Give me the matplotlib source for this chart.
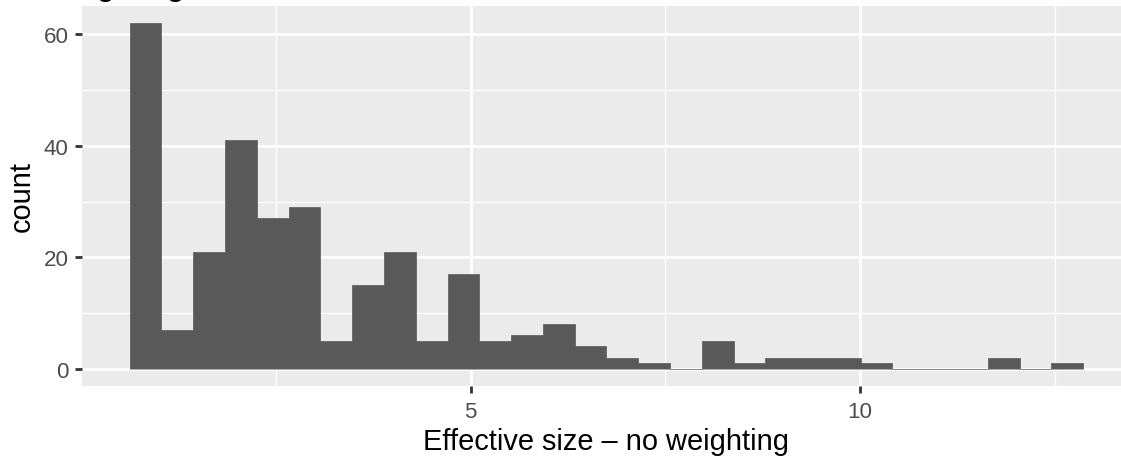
import matplotlib
matplotlib.use("Agg")
import matplotlib.pyplot as plt
import numpy as np

# Histogram counts (30 equal-width bins)
counts = [62, 7, 21, 41, 27, 29, 5, 15, 21, 5,
          17, 5, 6, 8, 4, 2, 1, 0, 5, 1,
          2, 2, 2, 1, 0, 0, 0, 2, 0, 1]
bin_start = 0.622
bin_width = 0.408

x_ticks = [5, 10]
x_minor = [2.5, 7.5, 12.5]
y_ticks = [0, 20, 40, 60]
y_minor = [10, 30, 50]

title = "No weighting"
x_label = "Effective size \u2013 no weighting"
y_label = "count"

W, H, DPI = 1121, 460, 100
plt.rcParams["font.family"] = ["Liberation Sans", "DejaVu Sans"]

fig = plt.figure(figsize=(W / DPI, H / DPI), dpi=DPI)

edges = bin_start + bin_width * np.arange(len(counts) + 1)
span = edges[-1] - edges[0]
xlim = (edges[0] - 0.05 * span, edges[-1] + 0.05 * span)
ylim = (-0.05 * max(counts), max(counts) * 1.05)

# panel geometry in pixels
px_left, px_top, px_bottom = 82, 7, 387
px_per_unit = 77.9
px_right = px_left + (xlim[1] - xlim[0]) * px_per_unit
ax = fig.add_axes([px_left / W, (H - px_bottom) / H,
                   (px_right - px_left) / W, (px_bottom - px_top) / H])
ax.set_facecolor("#EBEBEB")
for s in ax.spines.values():
    s.set_visible(False)

ax.set_xlim(*xlim)
ax.set_ylim(*ylim)
ax.set_xticks(x_ticks)
ax.set_xticks(x_minor, minor=True)
ax.set_yticks(y_ticks)
ax.set_yticks(y_minor, minor=True)
ax.grid(which="major", color="white", linewidth=2.0)
ax.grid(which="minor", color="white", linewidth=1.0)
ax.set_axisbelow(True)

ax.tick_params(which="major", length=5, width=2.0, color="#333333",
               labelsize=16.1, labelcolor="#4D4D4D")
ax.tick_params(axis="x", which="major", pad=5.5)
ax.tick_params(axis="y", which="major", pad=4.5)
ax.tick_params(which="minor", length=0)

# one filled step outline so neighbouring bins join without seams
ax.stairs(counts, edges, baseline=0, fill=True,
          facecolor="#595959", edgecolor="#595959", linewidth=0.5)

fig.text((px_left + px_right) / 2 / W, (H - 450) / H, x_label,
         ha="center", va="baseline", fontsize=20.9, color="black")
fig.text(22 / W, (H - 197) / H, y_label, rotation=90,
         ha="center", va="center", fontsize=20.9, color="black")
fig.text(5 / W, (H + 4) / H, title, ha="left", va="baseline",
         fontsize=20.6, fontweight="bold", color="black")

fig.savefig("out.png", dpi=DPI)
